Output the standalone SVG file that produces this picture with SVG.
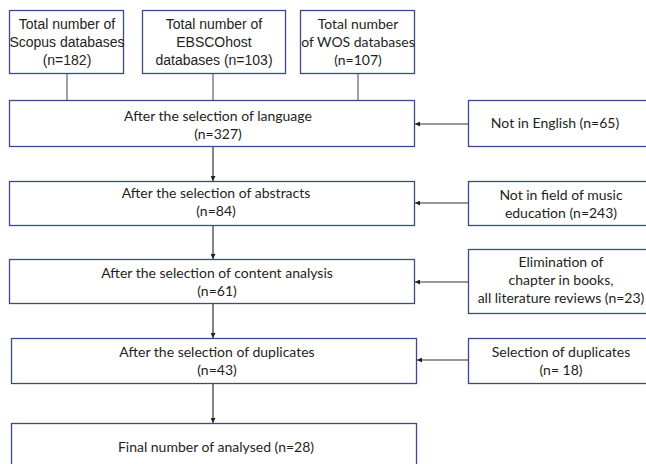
<svg xmlns="http://www.w3.org/2000/svg" width="646" height="464" viewBox="0 0 646 464">
<defs>
<style>
.box{fill:#fff;stroke:#3b4a87;stroke-width:1.3}
.t{font-family:Lato,"Liberation Sans",sans-serif;font-size:14px;fill:#231f20;text-anchor:middle}
.a{font-family:"Liberation Sans",Arial,sans-serif;font-size:14px;fill:#231f20;text-anchor:middle}
.ln{stroke:#808080;stroke-width:1.5;fill:none}
.ar{stroke:#333;stroke-width:1.2;fill:none}
</style>
<marker id="ah" viewBox="0 0 10 10" refX="10" refY="5" markerWidth="5" markerHeight="5" orient="auto" markerUnits="userSpaceOnUse">
<path d="M0,0 L10,5 L0,10 z" fill="#222"/>
</marker>
</defs>
<rect width="646" height="464" fill="#fff"/>
<g id="connectors">
<line class="ln" x1="67" y1="74" x2="67" y2="100"/>
<line class="ln" x1="213" y1="74" x2="213" y2="100"/>
<line class="ln" x1="358" y1="74" x2="358" y2="100"/>
<line class="ar" x1="213" y1="146" x2="213" y2="181" marker-end="url(#ah)"/>
<line class="ar" x1="213" y1="225" x2="213" y2="259" marker-end="url(#ah)"/>
<line class="ar" x1="213" y1="303" x2="213" y2="338" marker-end="url(#ah)"/>
<line class="ar" x1="213" y1="383" x2="213" y2="423" marker-end="url(#ah)"/>
<line class="ar" x1="468" y1="124" x2="415" y2="124" marker-end="url(#ah)"/>
<line class="ar" x1="468" y1="203" x2="415" y2="203" marker-end="url(#ah)"/>
<line class="ar" x1="468" y1="282" x2="415" y2="282" marker-end="url(#ah)"/>
<line class="ar" x1="468" y1="360" x2="417" y2="360" marker-end="url(#ah)"/>
</g>
<g id="scopus">
<rect class="box" x="9.5" y="10.5" width="114" height="63"/>
<text class="a"><tspan x="67" y="29">Total number of</tspan><tspan x="67" y="47">Scopus databases</tspan><tspan x="67" y="65">(n=182)</tspan></text>
</g>
<g id="ebsco">
<rect class="box" x="142.5" y="10.5" width="143" height="63"/>
<text class="a"><tspan x="214" y="29">Total number of</tspan><tspan x="214" y="47">EBSCOhost</tspan><tspan x="214" y="65">databases (n=103)</tspan></text>
</g>
<g id="wos">
<rect class="box" x="300.5" y="10.5" width="114" height="63"/>
<text class="t"><tspan x="358" y="29">Total number</tspan><tspan x="358" y="47">of WOS databases</tspan><tspan x="358" y="65">(n=107)</tspan></text>
</g>
<g id="language">
<rect class="box" x="9.5" y="100.5" width="405" height="46"/>
<text class="t"><tspan x="218" y="121">After the selection of language</tspan><tspan x="218" y="139">(n=327)</tspan></text>
</g>
<g id="english">
<rect class="box" x="468.5" y="100.5" width="190" height="46"/>
<text class="t" x="555" y="128">Not in English (n=65)</text>
</g>
<g id="abstracts">
<rect class="box" x="9.5" y="181.5" width="405" height="44"/>
<text class="t"><tspan x="216" y="198">After the selection of abstracts</tspan><tspan x="216" y="216">(n=84)</tspan></text>
</g>
<g id="music">
<rect class="box" x="468.5" y="181.5" width="190" height="44"/>
<text class="t"><tspan x="561" y="200">Not in field of music</tspan><tspan x="561" y="218">education (n=243)</tspan></text>
</g>
<g id="content">
<rect class="box" x="9.5" y="259.5" width="405" height="44"/>
<text class="t"><tspan x="217" y="278">After the selection of content analysis</tspan><tspan x="217" y="296">(n=61)</tspan></text>
</g>
<g id="elimination">
<rect class="box" x="468.5" y="249.5" width="190" height="64"/>
<text class="t"><tspan x="561" y="267">Elimination of</tspan><tspan x="561" y="285">chapter in books,</tspan><tspan x="561" y="303">all literature reviews (n=23)</tspan></text>
</g>
<g id="duplicates">
<rect class="box" x="11.5" y="338.5" width="405" height="45"/>
<text class="t"><tspan x="217" y="357">After the selection of duplicates</tspan><tspan x="217" y="375">(n=43)</tspan></text>
</g>
<g id="selection">
<rect class="box" x="468.5" y="338.5" width="190" height="45"/>
<text class="t"><tspan x="561" y="357">Selection of duplicates</tspan><tspan x="561" y="375">(n= 18)</tspan></text>
</g>
<g id="final">
<rect class="box" x="11.5" y="423.5" width="405" height="50"/>
<text class="t" x="216" y="452">Final number of analysed (n=28)</text>
</g>
</svg>
